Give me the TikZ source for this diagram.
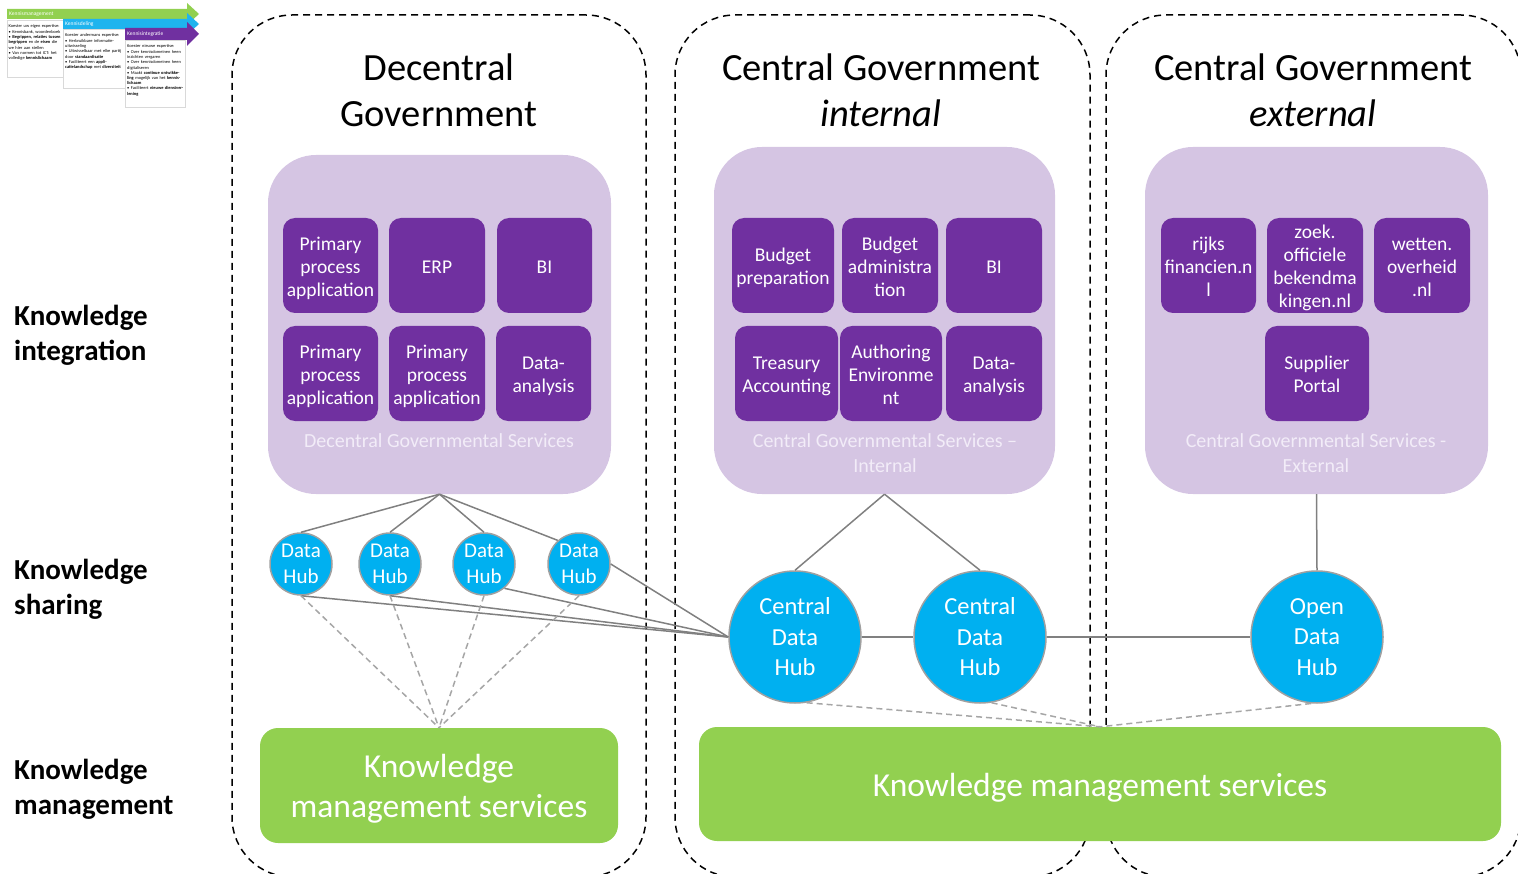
\documentclass[tikz,border=0pt]{standalone}
\usepackage{fontspec}
\setmainfont{Carlito}
\definecolor{lpurple}{HTML}{D5C5E3}
\definecolor{dpurple}{HTML}{7030A0}
\definecolor{capcol}{HTML}{F2ECF8}
\definecolor{hubcyan}{HTML}{00B0F0}
\definecolor{kgreen}{HTML}{92D050}
\definecolor{kblue}{HTML}{1FB4EE}
\definecolor{conngray}{HTML}{808080}
\definecolor{dashgray}{HTML}{A6A6A6}
\definecolor{hubborder}{HTML}{A0A0A0}
\newcommand\myfs[2]{\fontsize{#1}{#2}\selectfont}
\newcommand\dnc[2][3pt]{\raisebox{-#1}[\height][\depth]{\begin{tabular}{@{}c@{}}#2\end{tabular}}}
\newcommand\dnl[2][3pt]{\raisebox{-#1}[\height][\depth]{\begin{tabular}{@{}l@{}}#2\end{tabular}}}
\begin{document}
\begin{tikzpicture}[x=1pt,y=-1pt,
  cont/.style={draw=black,line width=1.5pt,dash pattern=on 7pt off 5pt,rounded corners=60pt,inner sep=0pt},
  hdr/.style={align=center,font=\myfs{38.5}{46}},
  bigp/.style={fill=lpurple,rounded corners=48pt,inner sep=0pt},
  app/.style={fill=dpurple,rounded corners=12pt,text=white,align=center,inner sep=0pt,minimum height=95pt,font=\myfs{19.5}{23}},
  capt/.style={text=capcol,align=center,font=\myfs{20}{25}},
  hub/.style={circle,fill=hubcyan,draw=hubborder,line width=1.5pt,text=white,align=center,inner sep=0pt,minimum size=62pt,font=\myfs{21}{26}},
  chub/.style={circle,fill=hubcyan,draw=hubborder,line width=1.5pt,text=white,align=center,inner sep=0pt,minimum size=132pt,font=\myfs{24.5}{30.5}},
  kms/.style={fill=kgreen,rounded corners=18pt,text=white,align=center,inner sep=0pt,font=\myfs{33.5}{40}},
  lbl/.style={anchor=west,align=left,inner sep=0pt,font=\bfseries\myfs{29}{35}},
  conn/.style={draw=conngray,line width=1.5pt},
  dconn/.style={draw=dashgray,line width=1.5pt,dash pattern=on 6pt off 4pt},
  thtitle/.style={text=white,anchor=west,inner sep=0pt,font=\myfs{5.5}{6}},
  thbox/.style={fill=white,draw=black!15,line width=0.4pt,anchor=north west,inner sep=0pt},
  thtext/.style={anchor=north west,align=left,inner sep=0pt,font=\myfs{4.4}{5.2}}
]
\useasboundingbox (0,0) rectangle (1518,874);

% ---- dashed containers
\node[cont,minimum width=414pt,minimum height=862pt] (contL) at (439,446) {};
\node[cont,minimum width=415pt,minimum height=862pt] (contM) at (882.5,446) {};
\node[cont,minimum width=415pt,minimum height=862pt] (contR) at (1313.5,446) {};

% ---- headers
\node[hdr] (hL) at (439,90) {Decentral\\Government};
\node[hdr] (hM) at (881,90) {Central Government\\\textit{internal}};
\node[hdr] (hR) at (1313,90) {Central Government\\\textit{external}};

% ---- side labels
\node[lbl] (lI) at (14,333) {\dnl{Knowledge\\integration}};
\node[lbl] (lS) at (14,587) {\dnl{Knowledge\\sharing}};
\node[lbl] (lK) at (14,787) {\dnl{Knowledge\\management}};

% ---- big purple boxes
\node[bigp,minimum width=343pt,minimum height=339pt] (dgs) at (439.5,324.5) {};
\node[bigp,minimum width=341pt,minimum height=347pt] (cgi) at (884.5,320.5) {};
\node[bigp,minimum width=343pt,minimum height=347pt] (cge) at (1316.5,320.5) {};

% ---- decentral apps
\node[app,minimum width=95pt] (d1) at (330.5,265.5) {\dnc{Primary\\process\\application}};
\node[app,minimum width=96pt] (d2) at (437,265.5) {\dnc{ERP}};
\node[app,minimum width=95pt] (d3) at (544.5,265.5) {\dnc{BI}};
\node[app,minimum width=95pt] (d4) at (330.5,373.5) {\dnc{Primary\\process\\application}};
\node[app,minimum width=96pt] (d5) at (437,373.5) {\dnc{Primary\\process\\application}};
\node[app,minimum width=95pt] (d6) at (543.5,373.5) {\dnc{Data-\\analysis}};
\node[capt] (dcap) at (439,441) {Decentral Governmental Services};

% ---- central internal apps
\node[app,minimum width=102pt] (m1) at (783,265.5) {\dnc{Budget\\preparation}};
\node[app,minimum width=96pt] (m2) at (890,265.5) {\dnc{Budget\\administra\\tion}};
\node[app,minimum width=96pt] (m3) at (994,265.5) {\dnc{BI}};
\node[app,minimum width=103pt] (m4) at (786.5,373.5) {\dnc{Treasury\\Accounting}};
\node[app,minimum width=102pt] (m5) at (891,373.5) {\dnc{Authoring\\Environme\\nt}};
\node[app,minimum width=96pt] (m6) at (994,373.5) {\dnc{Data-\\analysis}};
\node[capt] (mcap) at (885,453.5) {Central Governmental Services --\\Internal};

% ---- central external apps
\node[app,minimum width=95pt] (e1) at (1208.5,265.5) {\dnc{rijks\\financien.n\\l}};
\node[app,minimum width=96pt] (e2) at (1315,265.5) {\dnc{zoek.\\officiele\\bekendma\\kingen.nl}};
\node[app,minimum width=96pt] (e3) at (1422,265.5) {\dnc{wetten.\\overheid\\.nl}};
\node[app,minimum width=104pt] (e4) at (1317,373.5) {\dnc{Supplier\\Portal}};
\node[capt] (ecap) at (1316,453.5) {Central Governmental Services -\\External};

% ---- knowledge management boxes
\node[kms,minimum width=358pt,minimum height=115pt] (kmL) at (439,785.5) {\dnc[4pt]{Knowledge\\management services}};
\node[kms,minimum width=802pt,minimum height=114pt] (kmR) at (1100,784) {\dnc[4pt]{Knowledge management services}};

% ---- hubs
\node[hub] (h1) at (301,564) {Data\\Hub};
\node[hub] (h2) at (390,564) {Data\\Hub};
\node[hub] (h3) at (484,564) {Data\\Hub};
\node[hub] (h4) at (579,564) {Data\\Hub};
\node[chub] (c1) at (795,637) {Central\\Data\\Hub};
\node[chub] (c2) at (980,637) {Central\\Data\\Hub};
\node[chub] (o1) at (1317,637) {Open\\Data\\Hub};

% ---- connectors
\draw[conn] (dgs.south) -- (h1.north);
\draw[conn] (dgs.south) -- (h2.north);
\draw[conn] (dgs.south) -- (h3.north);
\draw[conn] (dgs.south) -- (h4.132);
\draw[conn] (h1.south) -- (c1.west);
\draw[conn] (h2.south) -- (c1.west);
\draw[conn] (h3.-50) -- (c1.west);
\draw[conn] (h4.east) -- (c1.west);
\draw[conn] (cgi.south) -- (c1.north);
\draw[conn] (cgi.south) -- (c2.north);
\draw[conn] (cge.south) -- (o1.north);
\draw[conn] (c1.east) -- (c2.west);
\draw[conn] (c2.east) -- (o1.west);

\draw[dconn] (h1.south) -- (kmL.north);
\draw[dconn] (h2.south) -- (kmL.north);
\draw[dconn] (h3.south) -- (kmL.north);
\draw[dconn] (h4.south) -- (kmL.north);
\draw[dconn] (c1.-80) -- (kmR.north);
\draw[dconn] (c2.-80) -- (kmR.north);
\draw[dconn] (o1.-95) -- (kmR.north);

% ---- thumbnail (top left)
\fill[kgreen] (7,9) -- (187,9) -- (187,3) -- (199,14) -- (187,25) -- (187,19) -- (7,19) -- cycle;
\node[thtitle] (tg) at (9,14) {Kennismanagement};
\node[thbox,minimum width=57pt,minimum height=57pt] (bg) at (7,20) {};
\node[thtext,text width=54pt] (tgt) at (8.5,24) {Koester uw eigen expertise:\\[1pt]
\textbullet\ Kennisbank, woordenboek\\
\textbullet\ \textbf{Begrippen, relaties tussen begrippen} en de \textbf{eisen} die we hier aan stellen\\
\textbullet\ Van normen tot ICT: het volledige \textbf{kennislichaam}};

\fill[kblue] (63,19) -- (187,19) -- (187,13) -- (199,24) -- (187,35) -- (187,29) -- (63,29) -- cycle;
\node[thtitle] (tb) at (65,24) {Kennisdeling};
\node[thbox,minimum width=62pt,minimum height=59pt] (bb) at (63,29.5) {};
\node[thtext,text width=58pt] (tbt) at (65,33) {Koester andermans expertise:\\[1pt]
\textbullet\ Herbruikbare informatie-uitwisseling\\
\textbullet\ Uitwisselbaar met elke partij door \textbf{standaardisatie}\\
\textbullet\ Faciliteert een \textbf{applicatielandschap} met \textbf{diversiteit}};

\fill[dpurple] (125,28) -- (187,28) -- (187,22) -- (199,34) -- (187,46) -- (187,40) -- (125,40) -- cycle;
\node[thtitle] (tp) at (127,34) {Kennisintegratie};
\node[thbox,minimum width=60pt,minimum height=67pt] (bp) at (125,40.5) {};
\node[thtext,text width=57pt] (tpt) at (127,44) {Koester nieuwe expertise:\\[1pt]
\textbullet\ Over kennisdomeinen heen inzichten vergaren\\
\textbullet\ Over kennisdomeinen heen digitaliseren\\
\textbullet\ Maakt \textbf{continue ontwikkeling} mogelijk van het \textbf{kennislichaam}\\
\textbullet\ Faciliteert \textbf{nieuwe dienstverlening}};
\end{tikzpicture}
\end{document}
